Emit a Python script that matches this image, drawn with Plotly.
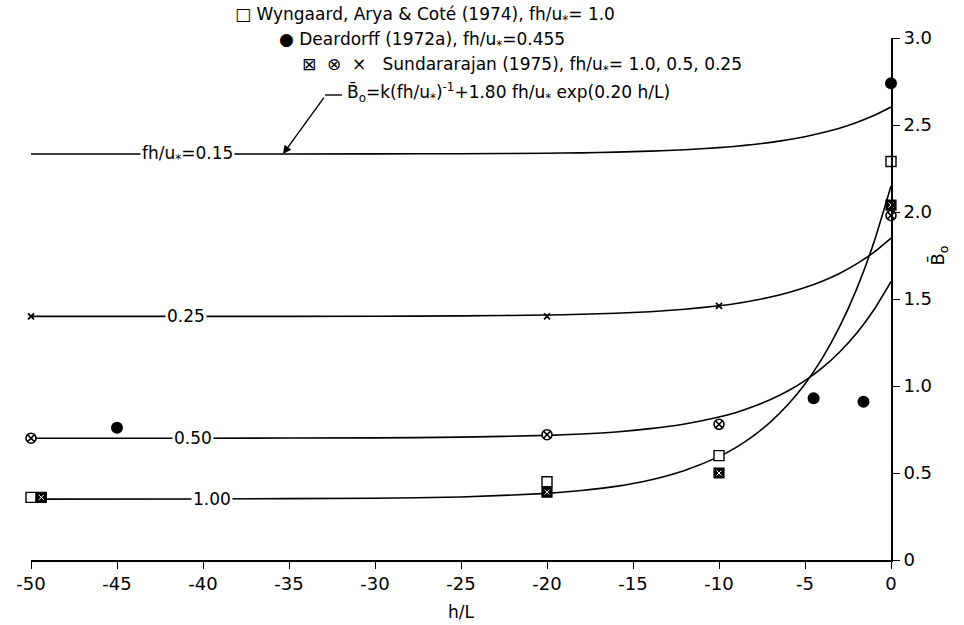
import plotly.graph_objects as go

# ---- model curves B0 versus h/L, one per fh/u* value ----
curve_hl = [-50, -40, -30, -25, -20, -18, -16, -14, -12, -10, -9, -8, -7, -6, -5, -4, -3, -2, -1, 0]
curve_015 = [2.333, 2.333, 2.334, 2.335, 2.338, 2.340, 2.344, 2.350, 2.358, 2.370, 2.378, 2.388,
             2.400, 2.415, 2.433, 2.455, 2.481, 2.514, 2.554, 2.603]
curve_025 = [1.400, 1.400, 1.401, 1.403, 1.408, 1.412, 1.418, 1.427, 1.441, 1.461, 1.474, 1.491,
             1.511, 1.536, 1.566, 1.602, 1.647, 1.702, 1.768, 1.850]
curve_050 = [0.700, 0.700, 0.702, 0.706, 0.716, 0.724, 0.736, 0.755, 0.782, 0.822, 0.848, 0.882,
             0.922, 0.971, 1.031, 1.104, 1.194, 1.303, 1.437, 1.600]
curve_100 = [0.350, 0.351, 0.355, 0.362, 0.383, 0.399, 0.423, 0.460, 0.515, 0.594, 0.647, 0.713,
             0.794, 0.892, 1.012, 1.159, 1.338, 1.557, 1.824, 2.150]
curve_labels = ["fh/u<sub>*</sub>=0.15", "0.25", "0.50", "1.00"]
curve_label_x = [-40.9, -41.0, -40.6, -39.5]

# ---- observations ----
wyngaard_hl = [-50, -20, -10, 0]
wyngaard_b = [0.36, 0.45, 0.60, 2.29]
deardorff_hl = [-45, -4.5, -1.6, 0]
deardorff_b = [0.76, 0.93, 0.91, 2.74]
sund_100_hl = [-49.4, -20, -10, 0]
sund_100_b = [0.36, 0.39, 0.50, 2.04]
sund_050_hl = [-50, -20, -10, 0]
sund_050_b = [0.70, 0.72, 0.78, 1.98]
sund_025_hl = [-50, -20, -10]
sund_025_b = [1.40, 1.40, 1.46]

x_ticks = [-50, -45, -40, -35, -30, -25, -20, -15, -10, -5, 0]
y_ticks = [0, 0.5, 1.0, 1.5, 2.0, 2.5, 3.0]
y_tick_text = ["0", "0.5", "1.0", "1.5", "2.0", "2.5", "3.0"]

FONT = "DejaVu Sans"
INK = "black"

# plot area in pixels (left, right, top, bottom)
PL, PR, PT, PB = 31, 891, 38, 560


def px_x(px):
    return (px - PL) / (PR - PL)


def px_y(py):
    return (PB - py) / (PB - PT)


fig = go.Figure()

for ys in [curve_015, curve_025, curve_050, curve_100]:
    fig.add_trace(go.Scatter(
        x=curve_hl, y=ys, mode="lines",
        line=dict(color=INK, width=1.6, shape="spline", smoothing=0.6),
        hoverinfo="skip", showlegend=False, cliponaxis=False))


def pts(xs, ys, symbol, size, lw=1.4, fill="white", edge=INK):
    fig.add_trace(go.Scatter(
        x=xs, y=ys, mode="markers", cliponaxis=False, showlegend=False,
        marker=dict(symbol=symbol, size=size, color=fill,
                    line=dict(color=edge, width=lw))))


pts(wyngaard_hl, wyngaard_b, "square", 10)
# boxed cross: solid box with a light cross inside
pts(sund_100_hl, sund_100_b, "square", 10, lw=1.2, fill=INK)
pts(sund_100_hl, sund_100_b, "x-thin", 5, lw=1.0, edge="white")
pts(sund_050_hl, sund_050_b, "circle-x", 10, lw=1.6)
pts(sund_025_hl, sund_025_b, "x-thin", 6, lw=1.8)
pts(deardorff_hl, deardorff_b, "circle", 12, lw=0, fill=INK)

annotations = []
# in-line labels on each curve
for lab, lx, ys in zip(curve_labels, curve_label_x,
                       [curve_015, curve_025, curve_050, curve_100]):
    annotations.append(dict(x=lx, y=ys[0], xref="x", yref="y", text=lab,
                            showarrow=False, bgcolor="white", borderpad=1,
                            font=dict(family=FONT, size=17, color=INK)))

# key text block at the top
key_lines = [
    ("\u25A1 Wyngaard, Arya & Coté (1974), fh/u<sub>*</sub>= 1.0", 233, 15),
    ("\u25CF Deardorff (1972a), fh/u<sub>*</sub>=0.455", 277, 40),
    ("\u22A0  \u2297  \u00D7   Sundararajan (1975), fh/u<sub>*</sub>= 1.0, 0.5, 0.25", 300, 65),
    ("B\u0304<sub>o</sub>=k(fh/u<sub>*</sub>)<sup>-1</sup>+1.80 fh/u<sub>*</sub> exp(0.20 h/L)", 345, 92),
]
for txt, px, py in key_lines:
    annotations.append(dict(x=px_x(px), y=px_y(py), xref="paper", yref="paper",
                            xanchor="left", yanchor="middle", text=txt, showarrow=False,
                            font=dict(family=FONT, size=17, color=INK)))

# leader arrow from the formula to the 0.15 curve
annotations.append(dict(x=-35.35, y=curve_015[0], xref="x", yref="y", text="",
                        showarrow=True, arrowhead=2, arrowsize=1.2, arrowwidth=1.4,
                        arrowcolor=INK, ax=42, ay=-58))

# axis titles
annotations.append(dict(x=-25, y=px_y(612), xref="x", yref="paper", text="h/L",
                        xanchor="center", yanchor="middle",
                        showarrow=False, font=dict(family=FONT, size=17, color=INK)))
annotations.append(dict(x=px_x(938), y=1.75, xref="paper", yref="y",
                        xanchor="center", yanchor="middle",
                        text="B\u0304<sub>o</sub>", textangle=-90, showarrow=False,
                        font=dict(family=FONT, size=18, color=INK)))

shapes = [dict(type="line", xref="paper", yref="paper",
               x0=px_x(325), x1=px_x(342), y0=px_y(95), y1=px_y(95),
               line=dict(color=INK, width=1.4))]

fig.update_layout(
    width=964, height=625,
    margin=dict(l=PL, r=964 - PR, t=PT, b=625 - PB),
    plot_bgcolor="white", paper_bgcolor="white",
    annotations=annotations, shapes=shapes,
    font=dict(family=FONT, size=17, color=INK),
    xaxis=dict(range=[-50, 0], tickvals=x_ticks, ticktext=[str(v) for v in x_ticks],
               showline=True, linecolor=INK, linewidth=1.6, ticks="outside",
               ticklen=7, tickwidth=1.4, tickcolor=INK, showgrid=False, zeroline=False,
               tickfont=dict(family=FONT, size=18, color=INK)),
    yaxis=dict(range=[0, 3.0], side="right", tickvals=y_ticks, ticktext=y_tick_text,
               showline=True, linecolor=INK, linewidth=1.6, ticks="outside",
               ticklen=7, tickwidth=1.4, tickcolor=INK, showgrid=False, zeroline=False,
               tickfont=dict(family=FONT, size=18, color=INK)),
)

fig.write_html("out.html")
